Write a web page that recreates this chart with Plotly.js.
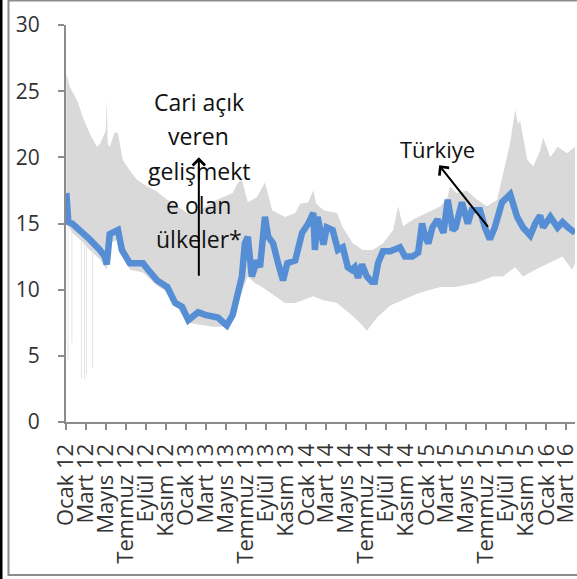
<!DOCTYPE html>
<html>
<head>
<meta charset="utf-8">
<script src="https://cdn.plot.ly/plotly-3.0.1.min.js"></script>
<style>
html,body{margin:0;padding:0;background:#fff;}
#chart{width:577px;height:579px;}
</style>
</head>
<body>
<div id="chart"></div>
<script>
// Türkiye series
const trDates = ['2012-01-02','2012-01-08','2012-01-20','2012-02-13','2012-03-13','2012-04-13','2012-04-28','2012-05-04','2012-05-13','2012-06-07','2012-06-19','2012-07-13','2012-08-22','2012-09-07','2012-10-04','2012-11-04','2012-11-28','2012-12-19','2013-01-07','2013-02-06','2013-02-27','2013-04-07','2013-05-04','2013-05-22','2013-06-04','2013-06-19','2013-06-28','2013-07-07','2013-07-19','2013-08-04','2013-08-13','2013-08-28','2013-09-07','2013-09-22','2013-10-07','2013-10-22','2013-11-04','2013-11-28','2013-12-19','2014-01-07','2014-01-22','2014-01-27','2014-02-04','2014-02-22','2014-03-04','2014-03-22','2014-04-07','2014-04-22','2014-05-07','2014-05-19','2014-05-28','2014-06-07','2014-06-19','2014-07-04','2014-07-19','2014-07-28','2014-08-07','2014-08-22','2014-09-13','2014-10-04','2014-10-13','2014-10-28','2014-11-19','2014-12-07','2014-12-19','2014-12-28','2015-01-07','2015-01-19','2015-02-04','2015-02-22','2015-03-07','2015-03-22','2015-03-31','2015-04-19','2015-05-07','2015-05-19','2015-06-13','2015-06-28','2015-07-13','2015-07-28','2015-08-19','2015-09-13','2015-10-04','2015-10-22','2015-11-13','2015-11-28','2015-12-13','2015-12-22','2016-01-13','2016-02-04','2016-02-19','2016-03-07','2016-03-28'];
const trValues = [17.3,15.1,15.0,14.5,13.8,13.0,12.5,11.9,14.2,14.5,13.0,12.0,12.0,11.5,10.7,10.2,9.0,8.7,7.7,8.3,8.1,7.9,7.3,8.1,9.5,11.0,13.5,14.0,11.0,12.2,11.7,15.5,14.0,13.5,12.0,10.7,12.0,12.2,14.3,15.0,15.8,13.0,15.5,13.4,14.7,14.5,13.0,13.2,11.7,11.5,11.7,10.9,11.9,11.0,10.6,10.6,12.0,12.9,12.9,13.2,13.2,12.5,12.5,12.8,15.0,14.0,13.5,14.7,15.3,14.3,16.8,14.5,14.7,16.6,15.0,16.0,16.0,14.7,13.8,14.7,16.6,17.2,15.5,14.7,14.1,15.0,15.6,14.7,15.5,14.7,15.1,14.7,14.3];

// Range of current-account-deficit emerging countries
const upperDates = ['2012-01-02','2012-01-13','2012-02-04','2012-02-22','2012-03-13','2012-04-04','2012-04-13','2012-05-01','2012-05-04','2012-05-07','2012-05-13','2012-05-28','2012-06-07','2012-06-22','2012-07-13','2012-08-04','2012-09-04','2012-10-04','2012-11-04','2012-12-04','2013-01-04','2013-02-13','2013-04-04','2013-05-22','2013-06-07','2013-06-19','2013-07-07','2013-08-04','2013-08-28','2013-09-19','2013-10-28','2013-11-28','2013-12-13','2014-01-07','2014-01-22','2014-01-31','2014-02-22','2014-03-13','2014-04-04','2014-04-22','2014-05-22','2014-06-22','2014-07-22','2014-08-22','2014-09-22','2014-10-07','2014-10-22','2014-11-22','2015-01-04','2015-02-13','2015-03-07','2015-03-13','2015-04-04','2015-05-04','2015-06-04','2015-07-04','2015-08-04','2015-08-22','2015-09-13','2015-09-28','2015-10-07','2015-10-13','2015-11-04','2015-11-22','2015-12-13','2015-12-22','2016-01-13','2016-02-04','2016-03-04','2016-03-28'];
const upperValues = [26.3,25.3,24.3,23.0,21.8,20.8,21.0,22.0,24.3,21.0,20.8,21.9,21.8,19.8,19.0,18.3,17.8,17.4,16.8,16.3,15.8,16.0,16.8,17.3,18.1,18.3,16.6,17.0,18.1,16.0,15.5,15.8,16.5,16.6,17.5,16.5,16.0,15.9,15.8,14.7,13.5,13.0,13.0,13.5,14.5,16.3,14.8,15.3,15.8,16.3,17.0,17.8,17.3,17.5,16.8,16.3,16.8,18.8,21.1,23.6,22.5,22.8,19.8,19.3,20.5,21.5,20.0,20.8,20.3,20.8];
const lowerDates = ['2012-01-02','2012-01-20','2012-02-13','2012-03-13','2012-04-13','2012-05-04','2012-05-13','2012-06-07','2012-07-13','2012-08-22','2012-10-04','2012-11-04','2012-11-22','2012-12-13','2013-01-04','2013-03-22','2013-05-04','2013-05-22','2013-06-13','2013-07-07','2013-07-28','2013-08-19','2013-09-28','2013-10-28','2013-11-28','2014-01-22','2014-02-22','2014-04-04','2014-05-13','2014-06-13','2014-07-04','2014-08-04','2014-09-13','2014-10-22','2014-12-04','2015-01-13','2015-02-13','2015-03-31','2015-05-31','2015-07-22','2015-08-22','2015-09-28','2015-10-22','2015-11-28','2016-01-07','2016-02-19','2016-03-19','2016-03-28'];
const lowerValues = [15.0,14.3,13.8,13.0,12.3,11.5,13.5,13.8,11.5,11.3,10.3,9.8,9.2,8.3,7.5,7.2,7.2,8.2,9.5,11.0,10.5,10.2,9.5,9.0,9.0,9.5,9.2,9.0,8.2,7.5,6.9,7.9,8.8,9.2,9.7,10.0,10.2,10.2,10.5,11.0,11.0,11.7,11.0,11.5,12.0,12.5,11.5,12.0];

// isolated daily drops of the lower bound (early 2012)
const spikeDates = ['2012-01-07','2012-01-19','2012-02-17','2012-02-26','2012-03-03','2012-03-22'];
const spikeTops = [14.8,14.3,13.6,13.5,13.4,13.0];
const spikeLows = [4.7,6.0,3.3,3.2,3.6,4.1];

// axis ticks
const tickDates = ['2012-01-01','2012-03-01','2012-05-01','2012-07-01','2012-09-01','2012-11-01','2013-01-01','2013-03-01','2013-05-01','2013-07-01','2013-09-01','2013-11-01','2014-01-01','2014-03-01','2014-05-01','2014-07-01','2014-09-01','2014-11-01','2015-01-01','2015-03-01','2015-05-01','2015-07-01','2015-09-01','2015-11-01','2016-01-01','2016-03-01'];
const tickLabels = ['Ocak 12','Mart 12','Mayıs 12','Temmuz 12','Eylül 12','Kasım 12','Ocak 13','Mart 13','Mayıs 13','Temmuz 13','Eylül 13','Kasım 13','Ocak 14','Mart 14','Mayıs 14','Temmuz 14','Eylül 14','Kasım 14','Ocak 15','Mart 15','Mayıs 15','Temmuz 15','Eylül 15','Kasım 15','Ocak 16','Mart 16'];
const yTicks = [0,5,10,15,20,25,30];

const groupLines = ['Cari açık','veren','gelişmekt','e olan','ülkeler*'];
const groupLineY = [24.2,21.6,18.95,16.4,13.8];

const spikeX = [], spikeY = [];
spikeDates.forEach((d,i)=>{ spikeX.push(d,d,null); spikeY.push(spikeTops[i],spikeLows[i],null); });

const traces = [
  {x: lowerDates, y: lowerValues, type:'scatter', mode:'lines', line:{width:0, color:'#d9d9d9'}, hoverinfo:'skip', showlegend:false},
  {x: upperDates, y: upperValues, type:'scatter', mode:'lines', fill:'tonexty', fillcolor:'#d9d9d9', line:{width:0, color:'#d9d9d9'}, hoverinfo:'skip', showlegend:false},
  {x: spikeX, y: spikeY, type:'scatter', mode:'lines', line:{width:1, color:'#e4e4e4'}, hoverinfo:'skip', showlegend:false},
  {x: trDates, y: trValues, type:'scatter', mode:'lines', name:'Türkiye', line:{width:6.5, color:'#558ED5'}, showlegend:false}
];

const FONT = '"Open Sans", sans-serif';
const annotations = groupLines.map((t,i)=>({
  x:'2013-02-08', y:groupLineY[i], xref:'x', yref:'y', text:t, showarrow:false,
  font:{family:FONT, size:23, color:'#111'}, xanchor:'center', yanchor:'middle'
}));
annotations.push({x:'2013-02-08', y:20.0, xref:'x', yref:'y', text:'', showarrow:true, ax:0, ay:120, arrowhead:4, arrowsize:1.2, arrowwidth:2, arrowcolor:'#000'});
annotations.push({x:'2015-02-05', y:20.6, xref:'x', yref:'y', text:'Türkiye', showarrow:false, font:{family:FONT, size:22, color:'#111'}, xanchor:'center', yanchor:'middle'});
annotations.push({x:'2015-02-09', y:19.4, xref:'x', yref:'y', text:'', showarrow:true, ax:50, ay:63, arrowhead:4, arrowsize:1.2, arrowwidth:2, arrowcolor:'#000'});

const layout = {
  width:577, height:579,
  margin:{l:66, r:2, t:25, b:157},
  paper_bgcolor:'#fff', plot_bgcolor:'#fff',
  font:{family:FONT, color:'#333'},
  xaxis:{
    type:'date', range:['2012-01-01','2016-03-28'],
    tickmode:'array', tickvals:tickDates, ticktext:tickLabels, tickangle:-90,
    tickfont:{family:FONT, size:22, color:'#333'},
    showgrid:false, zeroline:false, showline:true, linecolor:'#8c8c8c', linewidth:2,
    ticks:'outside', ticklen:6, tickwidth:2, tickcolor:'#8c8c8c', ticklabelstandoff:5,
    ticklabeloverflow:'allow'
  },
  yaxis:{
    range:[0,30], tickmode:'array', tickvals:yTicks,
    tickfont:{family:FONT, size:21, color:'#333'},
    showgrid:false, zeroline:false, showline:true, linecolor:'#8c8c8c', linewidth:2,
    ticks:'outside', ticklen:6, tickwidth:2, tickcolor:'#8c8c8c', ticklabelstandoff:14
  },
  annotations: annotations,
  shapes:[
    {type:'line', xref:'paper', yref:'paper', x0:-0.1277, x1:-0.1277, y0:-0.40, y1:1.07, line:{color:'#000', width:3}},
    {type:'rect', xref:'paper', yref:'paper', x0:-0.113, x1:1.008, y0:-0.3854, y1:1.0617, line:{color:'#8c8c8c', width:2}}
  ],
  showlegend:false
};

Plotly.newPlot('chart', traces, layout, {displayModeBar:false, staticPlot:true});
</script>
</body>
</html>
